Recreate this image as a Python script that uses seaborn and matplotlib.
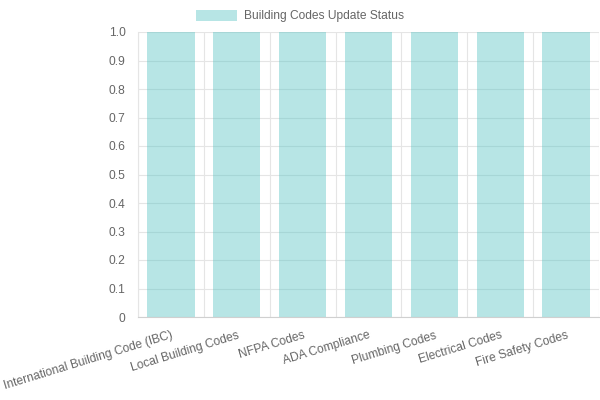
import matplotlib
matplotlib.use("Agg")
import matplotlib.pyplot as plt
import seaborn as sns
import numpy as np

categories = ["International Building Code (IBC)", "Local Building Codes", "NFPA Codes",
              "ADA Compliance", "Plumbing Codes", "Electrical Codes", "Fire Safety Codes"]
values = [1, 1, 1, 1, 1, 1, 1]
series_label = "Building Codes Update Status"
y_ticks = [0, 0.1, 0.2, 0.3, 0.4, 0.5, 0.6, 0.7, 0.8, 0.9, 1.0]
y_tick_labels = ["0", "0.1", "0.2", "0.3", "0.4", "0.5", "0.6", "0.7", "0.8", "0.9", "1.0"]

sns.set_style("white")
plt.rcParams['font.family'] = ['Liberation Sans', 'DejaVu Sans']
FS = 12 * 72 / 100  # 12 px

fig = plt.figure(figsize=(6, 4), dpi=100)
ax = fig.add_axes([138/600, 1-317/400, 461/600, (317-32)/400])

bar_color = (75/255, 192/255, 192/255, 0.4)
sns.barplot(x=categories, y=values, color=bar_color, saturation=1, width=0.72,
            label=series_label, ax=ax, edgecolor='none', linewidth=0)
for p in ax.patches:
    p.set_facecolor(bar_color)

ax.set_xlim(-0.5, len(categories) - 0.5)
ax.set_ylim(0, 1.0)
ax.set_yticks(y_ticks)
ax.set_yticklabels(y_tick_labels)

grid_c = "#e5e5e5"
ax.set_xticks(np.arange(-0.5, len(categories), 1.0), minor=True)
ax.set_xticks(np.arange(len(categories)))
ax.set_xticklabels(categories, rotation=17, ha='right', rotation_mode='anchor')
ax.tick_params(axis='x', which='major', length=0, pad=9, labelsize=FS, labelcolor='#666666')
ax.tick_params(axis='x', which='minor', length=6, color=grid_c, width=0.8)
ax.tick_params(axis='y', which='major', length=6, color=grid_c, width=0.8, pad=3,
               labelsize=FS, labelcolor='#666666')
ax.grid(axis='y', which='major', color=grid_c, linewidth=0.8)
ax.grid(axis='x', which='minor', color=grid_c, linewidth=0.8)
ax.set_axisbelow(True)
for s in ['top', 'right']:
    ax.spines[s].set_visible(False)
ax.spines['left'].set_color(grid_c)
ax.spines['bottom'].set_color('#d0d0d0')
ax.spines['left'].set_linewidth(0.8)
ax.spines['bottom'].set_linewidth(0.8)
ax.set_xlabel("")
ax.set_ylabel("")

leg = ax.legend(loc='center', bbox_to_anchor=(300/600, 1-16/400), bbox_transform=fig.transFigure,
                frameon=False, fontsize=FS, handlelength=3.35, handleheight=1.0,
                handletextpad=0.6, labelcolor='#666666')

fig.savefig("out.png", dpi=100)
